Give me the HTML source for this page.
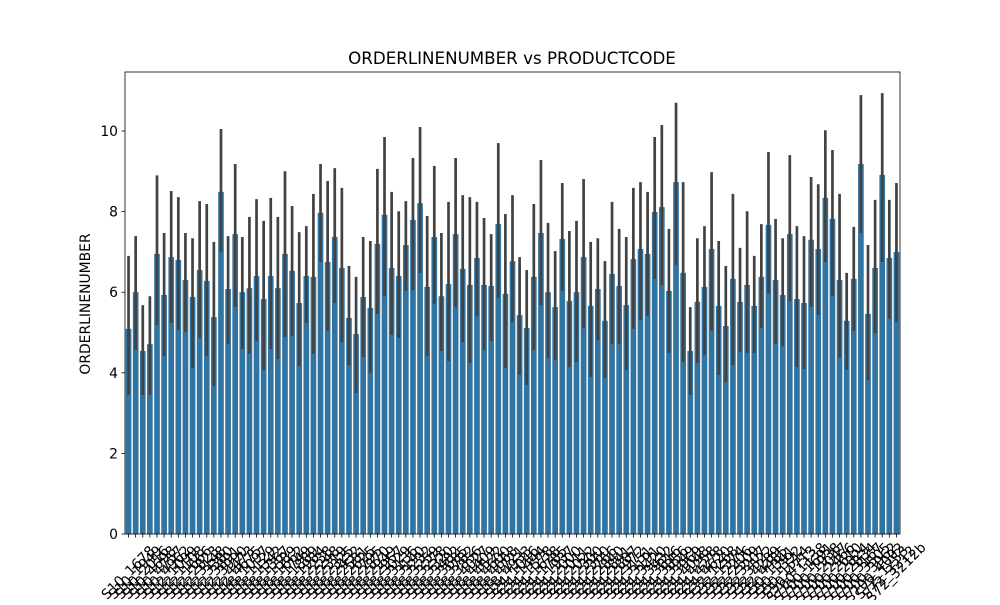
<!DOCTYPE html>
<html><head><meta charset="utf-8"><style>
body{margin:0;background:#fff}
svg text{font-family:"DejaVu Sans","Liberation Sans",sans-serif}
</style></head><body>
<svg id="chart" width="1000" height="600" xmlns="http://www.w3.org/2000/svg">
<rect width="1000" height="600" fill="#fff"/>
<text x="512" y="64" font-size="16.7" text-anchor="middle">ORDERLINENUMBER vs PRODUCTCODE</text>
<text transform="translate(90,304) rotate(-90)" font-size="13.9" text-anchor="middle">ORDERLINENUMBER</text>
<g id="bars"></g><g id="errs"></g><g id="axes"></g>
</svg>
<script>
const categories = ["S10_1678","S10_1949","S10_2016","S10_4698","S10_4757","S10_4962","S12_1099","S12_1108","S12_1666","S12_2823","S12_3148","S12_3380","S12_3891","S12_3990","S12_4473","S12_4675","S18_1097","S18_1129","S18_1342","S18_1367","S18_1589","S18_1662","S18_1749","S18_1889","S18_1984","S18_2238","S18_2248","S18_2319","S18_2325","S18_2432","S18_2581","S18_2625","S18_2795","S18_2870","S18_2949","S18_2957","S18_3029","S18_3136","S18_3140","S18_3232","S18_3259","S18_3278","S18_3320","S18_3482","S18_3685","S18_3782","S18_3856","S18_4027","S18_4409","S18_4522","S18_4600","S18_4668","S18_4721","S18_4933","S24_1046","S24_1444","S24_1578","S24_1628","S24_1785","S24_1937","S24_2000","S24_2011","S24_2022","S24_2300","S24_2360","S24_2766","S24_2840","S24_2841","S24_2887","S24_2972","S24_3151","S24_3191","S24_3420","S24_3432","S24_3816","S24_3856","S24_3949","S24_3969","S24_4048","S24_4258","S24_4278","S24_4620","S32_1268","S32_1374","S32_2206","S32_2509","S32_3207","S32_3522","S32_4289","S32_4485","S50_1341","S50_1392","S50_1514","S50_4713","S700_1138","S700_1691","S700_1938","S700_2047","S700_2466","S700_2610","S700_2824","S700_2834","S700_3167","S700_3505","S700_3962","S700_4002","S72_1253","S72_3212","S72_3212b"];
const means = [5.09,6.0,4.54,4.71,6.95,5.93,6.87,6.8,6.3,5.88,6.55,6.28,5.38,8.49,6.08,7.44,6.0,6.1,6.4,5.83,6.4,6.1,6.95,6.53,5.73,6.4,6.38,7.97,6.75,7.37,6.6,5.36,4.96,5.88,5.61,7.2,7.92,6.6,6.4,7.17,7.79,8.21,6.13,7.37,5.9,6.2,7.44,6.58,6.18,6.85,6.18,6.15,7.69,5.96,6.77,5.43,5.11,6.38,7.47,6.0,5.63,7.32,5.78,6.0,6.87,5.66,6.08,5.29,6.45,6.15,5.68,6.82,7.07,6.95,7.99,8.11,6.03,8.73,6.48,4.54,5.76,6.13,7.07,5.66,5.16,6.33,5.76,6.18,5.66,6.38,7.67,6.3,5.93,7.44,5.83,5.73,7.3,7.07,8.34,7.82,6.3,5.29,6.33,9.18,5.46,6.6,8.91,6.85,7.0];
const ciLow = [3.45,4.57,3.45,3.45,5.19,4.42,5.24,5.06,5.01,4.12,4.86,4.42,3.67,7.0,4.71,5.63,4.59,4.47,4.79,4.07,4.59,4.34,4.89,4.91,4.17,5.24,4.47,6.75,5.04,5.73,4.76,4.19,3.5,4.39,3.99,5.46,5.9,4.94,4.86,6.03,6.05,6.48,4.42,5.71,4.54,4.29,5.63,4.76,4.24,5.41,4.57,4.79,5.86,4.12,5.26,3.95,3.7,4.57,5.68,4.37,4.32,6.03,4.14,4.27,5.11,3.9,4.81,3.87,4.71,4.71,4.07,5.09,5.31,5.41,6.33,6.18,4.49,6.68,4.27,3.45,4.24,4.44,5.04,3.95,3.77,4.19,4.52,4.49,4.49,5.11,5.96,4.71,4.66,5.78,4.14,4.09,5.63,5.43,6.75,5.9,4.37,4.07,5.04,7.47,3.82,4.99,6.75,5.34,5.26];
const ciHigh = [6.9,7.39,5.68,5.9,8.9,7.47,8.51,8.36,7.47,7.34,8.26,8.19,7.25,10.05,7.39,9.18,7.37,7.87,8.31,7.77,8.34,7.87,9.0,8.14,7.49,7.64,8.44,9.18,8.76,9.08,8.59,6.65,6.38,7.37,7.27,9.06,9.85,8.49,8.01,8.26,9.33,10.1,7.89,9.13,7.47,8.24,9.33,8.41,8.36,8.24,7.84,7.44,9.7,7.94,8.41,6.87,6.55,8.19,9.28,7.72,7.02,8.71,7.52,7.77,8.81,7.25,7.34,6.77,8.24,7.57,7.37,8.59,8.73,8.49,9.85,10.15,7.57,10.7,8.73,5.63,7.34,7.64,8.98,7.27,6.65,8.44,7.1,8.01,6.9,7.69,9.48,7.82,7.34,9.4,7.64,7.39,8.86,8.68,10.02,9.53,8.44,6.48,7.62,10.89,7.17,8.29,10.94,8.29,8.71];
const yTicks = [0,2,4,6,8,10];

const NS="http://www.w3.org/2000/svg";
const L=125,R=900,T=72,B=534;
const n=categories.length, step=(R-L)/n;
const xC=i=>L+step*(i+0.5);
const yS=v=>B-v*40.3;
function mk(t,a,p){const e=document.createElementNS(NS,t);for(const k in a)e.setAttribute(k,a[k]);p.appendChild(e);return e;}
const gb=document.getElementById('bars'),ge=document.getElementById('errs'),ga=document.getElementById('axes');
for(let i=0;i<n;i++){
  const bw=step*0.8;
  const r=mk('rect',{x:xC(i)-bw/2,y:yS(means[i]),width:bw,height:B-yS(means[i]),fill:'#3274a1'},gb);
  
  
  const l=mk('line',{x1:xC(i),x2:xC(i),y1:yS(ciLow[i]),y2:yS(ciHigh[i]),stroke:'#424242','stroke-width':2.7},ge);
  
  
  mk('line',{x1:xC(i),x2:xC(i),y1:B,y2:B+3.5,stroke:'#000','stroke-width':0.8},ga);
  const tx=mk('text',{x:0,y:0,'font-size':13.9,'text-anchor':'middle','dominant-baseline':'central',transform:`translate(${xC(i)},${573}) rotate(-45)`},ga);
  tx.textContent=categories[i];
  
  
}
yTicks.forEach(v=>{
  mk('line',{x1:L-3.5,x2:L,y1:yS(v),y2:yS(v),stroke:'#000','stroke-width':0.8},ga);
  const t=mk('text',{x:L-7,y:yS(v)+5,'font-size':13.9,'text-anchor':'end'},ga);
  t.textContent=v;
  
  
});
const fr=mk('rect',{x:L,y:T,width:R-L,height:B-T,fill:'none',stroke:'#000','stroke-width':0.8},ga);


</script>
</body></html>
